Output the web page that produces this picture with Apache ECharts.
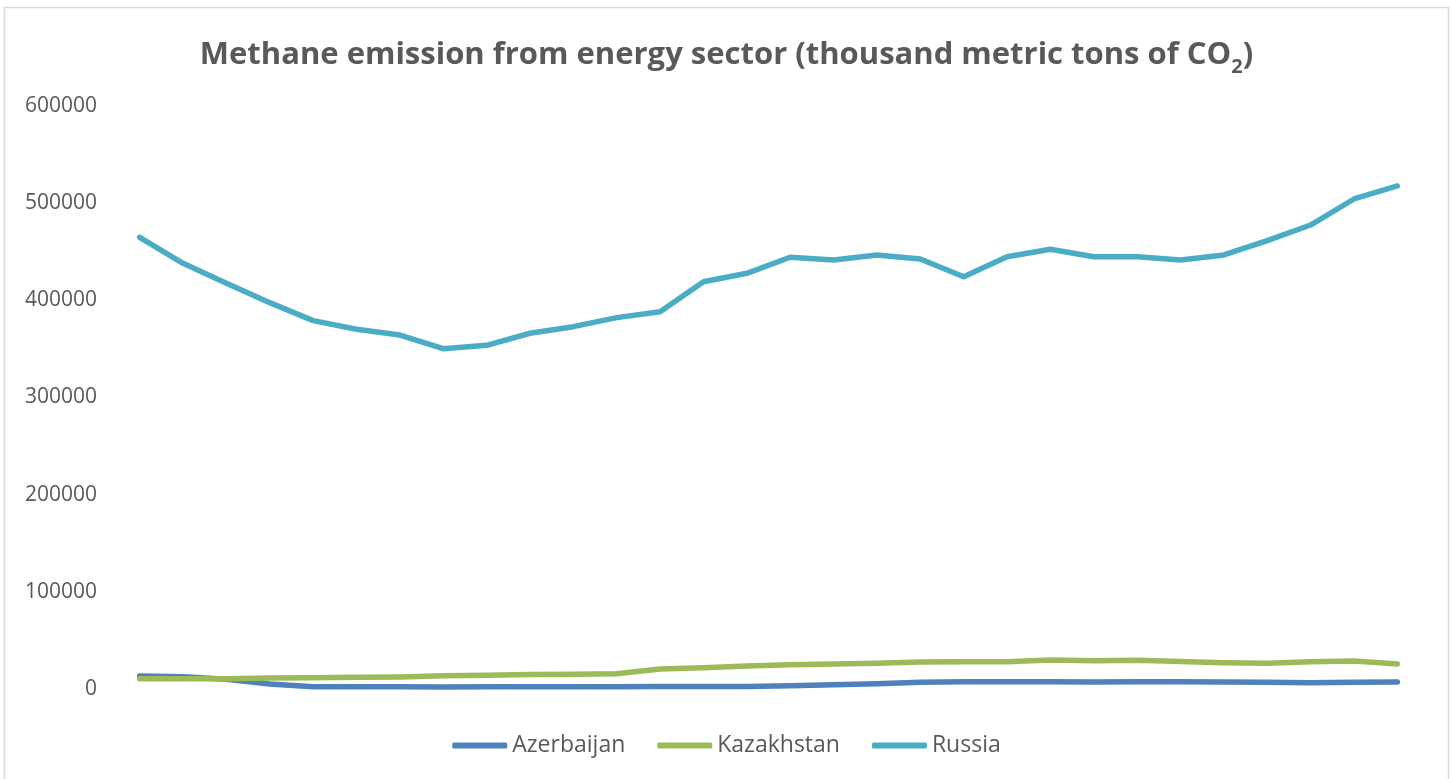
<!DOCTYPE html>
<html>
<head>
<meta charset="utf-8">
<script src="https://cdn.jsdelivr.net/npm/echarts@6/dist/echarts.min.js"></script>
<style>
html,body{margin:0;padding:0;background:#fff;}
#c{width:1453px;height:779px;}
</style>
</head>
<body>
<div id="c"></div>
<script>
const years = ['1990','1991','1992','1993','1994','1995','1996','1997','1998','1999','2000','2001','2002','2003','2004','2005','2006','2007','2008','2009','2010','2011','2012','2013','2014','2015','2016','2017','2018','2019'];
const azerbaijan = [13400,12700,10000,5200,2400,2300,2200,2100,2300,2400,2400,2400,2500,2600,2700,3400,4500,5500,6900,7500,7500,7500,7200,7500,7500,7200,6900,6500,6900,7200];
const kazakhstan = [10600,10600,10500,11300,11600,12000,12400,13700,14100,14800,15100,15800,20600,21900,23700,25000,25700,26400,27800,28100,28100,29800,29200,29500,28400,27100,26400,28100,28800,25700];
const russia = [464900,438100,417500,397600,379100,370200,364300,350200,353700,366100,372900,382200,388300,419200,427800,444300,441500,446700,442600,424300,444900,452500,444900,444900,441500,446700,461400,477500,504300,517700];
const yTicks = {min:0, max:600000, interval:100000};
const seriesNames = ['Azerbaijan','Kazakhstan','Russia'];
const colors = ['#4F81BD','#9BBB59','#4BACC6'];

const chart = echarts.init(document.getElementById('c'), null, {renderer:'canvas'});
const mk = (name, data, color) => ({
  name, type:'line', data, symbol:'none', smooth:false,
  lineStyle:{width:5.5, color, cap:'round', join:'round'},
  itemStyle:{color}
});
chart.setOption({
  animation:false,
  backgroundColor:'#fff',
  graphic:[{type:'rect', shape:{x:4.5,y:7.5,width:1444,height:790}, style:{fill:'none', stroke:'#D9D9D9', lineWidth:1.5}, silent:true}],
  title:{
    left:'center', top:28,
    text:'{a|Methane emission from energy sector (thousand metric tons of CO}{s|2}{a|)}',
    textStyle:{
      rich:{
        a:{fontFamily:'Open Sans', fontWeight:'bold', fontSize:31, color:'#595959', lineHeight:44},
        s:{fontFamily:'Open Sans', fontWeight:'bold', fontSize:20, color:'#595959', lineHeight:30, verticalAlign:'bottom'}
      }
    }
  },
  legend:{
    left:'center', top:729,
    icon:'roundRect', itemWidth:55, itemHeight:6, itemGap:32,
    textStyle:{fontFamily:'Open Sans', fontSize:23, color:'#595959'},
    data:seriesNames
  },
  grid:{left:118, right:34, top:106, bottom:90, containLabel:false},
  xAxis:{type:'category', data:years, boundaryGap:true,
    axisLine:{show:false}, axisTick:{show:false}, axisLabel:{show:false}, splitLine:{show:false}},
  yAxis:{type:'value', min:yTicks.min, max:yTicks.max, interval:yTicks.interval,
    axisLine:{show:false}, axisTick:{show:false}, splitLine:{show:false},
    axisLabel:{fontFamily:'Open Sans', fontSize:21, color:'#595959', margin:21, formatter:v => String(v)}},
  series:[
    mk(seriesNames[0], azerbaijan, colors[0]),
    mk(seriesNames[1], kazakhstan, colors[1]),
    mk(seriesNames[2], russia, colors[2])
  ]
});
</script>
</body>
</html>
